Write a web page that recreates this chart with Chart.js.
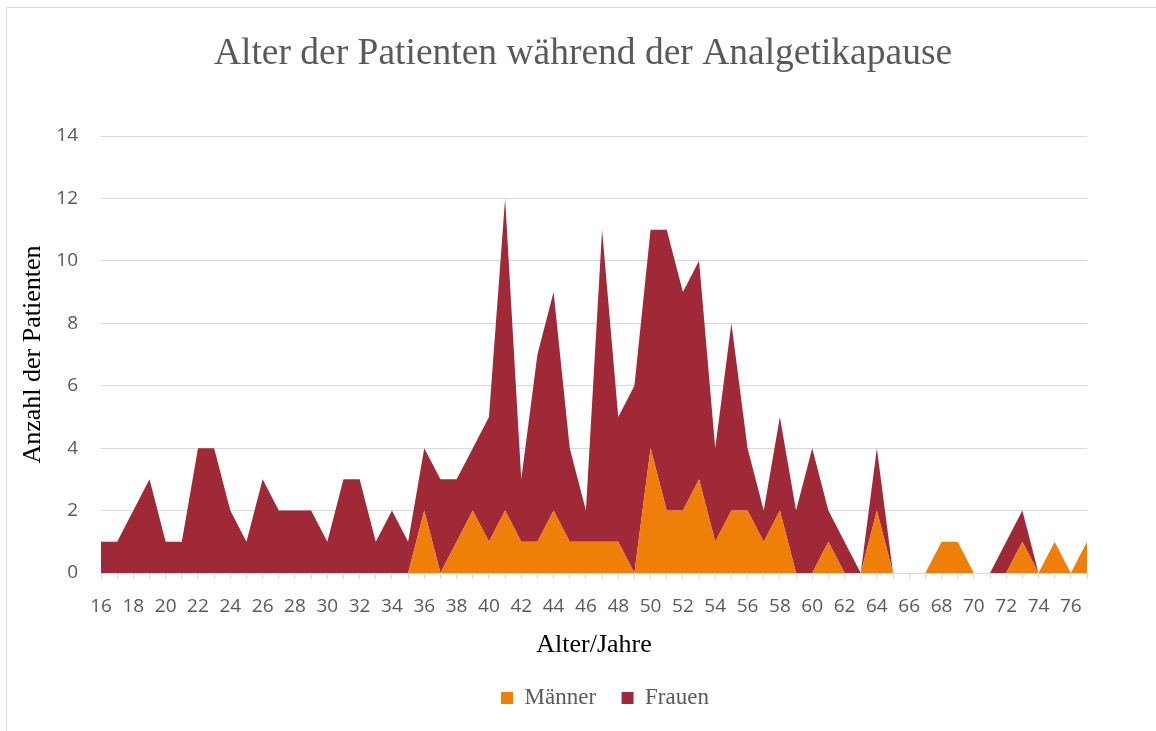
<!DOCTYPE html>
<html>
<head>
<meta charset="utf-8">
<script src="https://cdn.jsdelivr.net/npm/chart.js@4.4.1/dist/chart.umd.min.js"></script>
<style>
  html, body { margin: 0; padding: 0; background: #ffffff; overflow: hidden; }
  #wrap { position: relative; width: 1156px; height: 731px; }
  #frame { position: absolute; left: 6px; top: 7px; width: 1300px; height: 900px;
           border-left: 1px solid #d9d9d9; border-top: 1px solid #d9d9d9; box-sizing: border-box; }
  canvas { position: absolute; left: 0; top: 0; }
</style>
</head>
<body>
<div id="wrap">
  <div id="frame"></div>
  <canvas id="c" width="1156" height="731"></canvas>
</div>
<script>
// Categories: age in years
const ages = [16,17,18,19,20,21,22,23,24,25,26,27,28,29,30,31,32,33,34,35,
              36,37,38,39,40,41,42,43,44,45,46,47,48,49,50,51,52,53,54,55,
              56,57,58,59,60,61,62,63,64,65,66,67,68,69,70,71,72,73,74,75,76,77];

// Männer (bottom of stack)
const maenner = [0,0,0,0,0,0,0,0,0,0,0,0,0,0,0,0,0,0,0,0,
                 2,0,1,2,1,2,1,1,2,1,1,1,1,0,4,2,2,3,1,2,
                 2,1,2,0,0,1,0,0,2,0,0,0,1,1,0,0,0,1,0,1,0,1];

// Frauen (stacked on top)
const frauen = [1,1,2,3,1,1,4,4,2,1,3,2,2,2,1,3,3,1,2,1,
                2,3,2,2,4,10,2,6,7,3,1,10,4,6,7,9,7,7,3,6,
                2,1,3,2,4,1,1,0,2,0,0,0,0,0,0,0,1,1,0,0,0,0];

const seriesNames = ['Männer', 'Frauen'];
const seriesColors = ['#F07F09', '#9F2936'];
const titleText = 'Alter der Patienten während der Analgetikapause';
const xTitle = 'Alter/Jahre';
const yTitle = 'Anzahl der Patienten';

const serif = "'Liberation Serif', 'Times New Roman', serif";
const sans = "'Open Sans', 'Noto Sans', sans-serif";

// nudge the legend slightly to the right, as in the original layout
const legendShift = {
  id: 'legendShift',
  afterLayout(chart) {
    if (chart.legend) { chart.legend.left += 11; chart.legend.right += 11; }
  }
};

new Chart(document.getElementById('c'), {
  type: 'line',
  data: {
    labels: ages.map(String),
    datasets: [
      { label: seriesNames[0], data: maenner, backgroundColor: seriesColors[0], borderColor: seriesColors[0],
        borderWidth: 0, pointRadius: 0, fill: 'origin', tension: 0 },
      { label: seriesNames[1], data: frauen, backgroundColor: seriesColors[1], borderColor: seriesColors[1],
        borderWidth: 0, pointRadius: 0, fill: '-1', tension: 0 }
    ]
  },
  plugins: [legendShift],
  options: {
    responsive: false,
    animation: false,
    devicePixelRatio: 1,
    layout: { padding: { left: 10, right: 0, top: 0, bottom: 11.5 } },
    plugins: {
      title: {
        display: true, text: titleText, color: '#595959',
        font: { family: serif, size: 37.5, weight: 'normal' },
        padding: { top: 32, bottom: 59 }
      },
      legend: {
        display: true, position: 'bottom', fullSize: false,
        labels: { color: '#595959', font: { family: serif, size: 23 }, boxWidth: 12, boxHeight: 12, padding: 25.5 }
      },
      tooltip: { enabled: false }
    },
    scales: {
      x: {
        type: 'category',
        offset: false,
        grid: { drawOnChartArea: false, drawTicks: true, tickLength: 6, color: '#d9d9d9' },
        border: { display: true, color: '#d9d9d9', width: 1 },
        ticks: {
          autoSkip: false, maxRotation: 0, minRotation: 0, padding: 16,
          color: '#595959', font: { family: sans, size: 19 },
          callback: function (v, i) { return i % 2 === 0 ? ages[i] : ''; }
        },
        title: { display: true, text: xTitle, color: '#000000',
                 font: { family: serif, size: 26 }, padding: { top: 0, bottom: 0 } },
        afterFit: function (s) { s.height = 88; }
      },
      y: {
        stacked: true,
        min: 0, max: 14,
        grid: { drawTicks: false, color: '#d9d9d9', lineWidth: 1 },
        border: { display: false },
        ticks: { stepSize: 2, padding: 23, color: '#595959', font: { family: sans, size: 19 } },
        title: { display: true, text: yTitle, color: '#000000',
                 font: { family: serif, size: 26 }, padding: { top: 8, bottom: 0 } },
        afterFit: function (s) { s.width = 91; }
      },
      yRight: {
        position: 'right',
        display: true,
        grid: { display: false, drawTicks: false },
        border: { display: false },
        ticks: { display: false },
        afterFit: function (s) { s.width = 69; }
      }
    }
  }
});
</script>
</body>
</html>
